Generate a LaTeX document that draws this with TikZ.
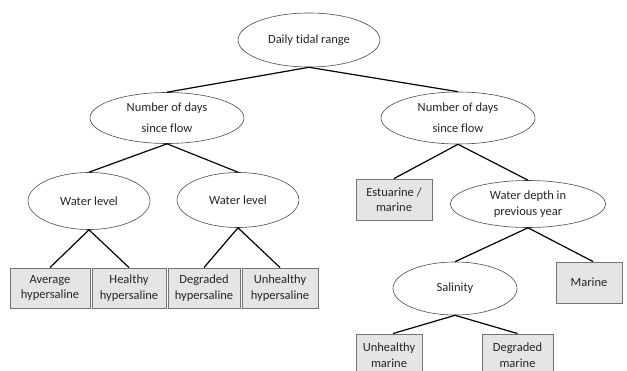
\documentclass[tikz,border=0pt]{standalone}
\usepackage{fontspec}
\setmainfont{Carlito}[Ligatures=NoCommon]
\usetikzlibrary{shapes.geometric}
\begin{document}
\begin{tikzpicture}[x=1pt,y=-1pt,
  every node/.style={inner sep=0pt, align=center, text=black!85},
  oval/.style={ellipse, draw=black!70, line width=0.6pt, fill=white, font=\fontsize{12.5}{16}\selectfont},
  wideoval/.style={oval, font=\fontsize{12.5}{21}\selectfont},
  leaf/.style={rectangle, draw=black!55, line width=0.9pt, fill=black!10, font=\fontsize{12.5}{15.5}\selectfont},
  link/.style={draw=black, line width=1.2pt}]
\useasboundingbox (0,0) rectangle (627,371);
\begin{scope}
\clip (0,0) rectangle (627,371);
\node[oval, minimum width=142pt, minimum height=54pt] (root) at (309,40) {Daily tidal range};
\node[wideoval, minimum width=154pt, minimum height=51pt] (nl) at (167,118) {Number of days\\since flow};
\node[wideoval, minimum width=154pt, minimum height=52pt] (nr) at (458,118) {Number of days\\since flow};
\node[oval, minimum width=122pt, minimum height=57pt] (wl1) at (89,201) {Water level};
\node[oval, minimum width=122pt, minimum height=55pt] (wl2) at (238,200) {Water level};
\node[leaf, minimum width=80pt, minimum height=40pt] (avg) at (50,288) {Average\\hypersaline};
\node[leaf, minimum width=74pt, minimum height=40pt] (hea) at (129,288) {Healthy\\hypersaline};
\node[leaf, minimum width=72pt, minimum height=40pt] (deg) at (204,288) {Degraded\\hypersaline};
\node[leaf, minimum width=76pt, minimum height=40pt] (unh) at (280,288) {Unhealthy\\hypersaline};
\node[leaf, minimum width=76pt, minimum height=41pt] (est) at (394,199.5) {Estuarine /\\marine};
\node[oval, minimum width=155pt, minimum height=47pt] (wd) at (528,204) {Water depth in\\previous year};
\node[oval, minimum width=124pt, minimum height=53pt] (sal) at (455,288.5) {Salinity};
\node[leaf, minimum width=66pt, minimum height=41pt] (mar) at (589,282.5) {Marine};
\node[leaf, minimum width=66pt, minimum height=42pt] (um) at (389,355) {Unhealthy\\marine};
\node[leaf, minimum width=71pt, minimum height=42pt] (dm) at (517.5,355) {Degraded\\marine};
\end{scope}
\draw[link] (root.south) -- (nl.north);
\draw[link] (root.south) -- (nr.north);
\draw[link] (nl.south) -- (wl1.north);
\draw[link] (nl.south) -- (wl2.north);
\draw[link] (wl1.south) -- (avg.north);
\draw[link] (wl1.south) -- (hea.north);
\draw[link] (wl2.south) -- (deg.north);
\draw[link] (wl2.south) -- (unh.north);
\draw[link] (nr.south) -- (est.north);
\draw[link] (nr.south) -- (wd.north);
\draw[link] (wd.south) -- (sal.north);
\draw[link] (wd.south) -- ([xshift=4pt]mar.north);
\draw[link] (sal.south) -- ([xshift=4pt]um.north);
\draw[link] (sal.south) -- (dm.north);
\end{tikzpicture}
\end{document}
